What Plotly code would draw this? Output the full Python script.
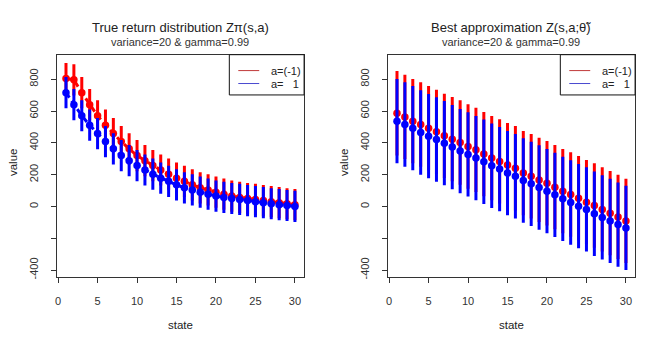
import plotly.graph_objects as go

states = list(range(1, 31))

# Left panel: true return distribution (means)
true_red = [804, 796, 715, 640, 570, 511, 458, 408, 362, 320, 288, 257, 229, 203, 178,
            158, 136, 117, 104, 90, 77, 65, 57, 50, 44, 37, 30, 24, 17, 11]
true_blue = [715, 640, 570, 511, 458, 408, 362, 320, 288, 257, 229, 203, 178, 158, 136,
             117, 104, 90, 77, 65, 57, 50, 44, 37, 30, 24, 17, 11, 6, 0]
true_halfwidth = 98

# Right panel: best approximation (means)
approx_red = [586, 563, 536, 515, 492, 469, 444, 423, 402, 377, 356, 329, 304, 283, 260,
              240, 210, 190, 167, 146, 121, 96, 75, 52, 27, 6, -19, -42, -66, -91]
approx_blue = [536, 515, 492, 465, 442, 421, 398, 373, 348, 327, 304, 281, 256, 235, 210,
               190, 163, 142, 119, 96, 73, 48, 25, 2, -19, -46, -69, -91, -114, -135]
approx_halfwidth = 265

x_ticks = [0, 5, 10, 15, 20, 25, 30]
y_ticks = [-400, -200, 0, 200, 400, 600, 800]
y_ticktext = ["-400", "", "0", "200", "400", "600", "800"]

legend_labels = ["a=(-1)", "a=   1"]
titles = ["True return distribution Z\u03c0(s,a)", "Best approximation Z(s,a;\u03b8\u0303)"]
subtitle = "variance=20 & gamma=0.99"

RED = "#ff0000"
BLUE = "#0000ff"
FONT = "Liberation Sans, Arial, sans-serif"
TXT = "#222222"

W, H = 664, 349
fig = go.Figure()

def px(x):
    return x / W

def py(y):
    return 1 - y / H

panels = [
    dict(xa="x", ya="y", left=55, right=303),
    dict(xa="x2", ya="y2", left=387, right=635),
]

def add_series(xa, ya, vals, hw, color):
    fig.add_trace(go.Scatter(
        x=states, y=vals, mode="markers", xaxis=xa, yaxis=ya,
        marker=dict(color=color, size=7.5, line=dict(width=0)),
        error_y=dict(type="constant", value=hw, color=color, thickness=3, width=0),
        showlegend=False, hoverinfo="skip"))

def add_line(xa, ya, vals, color):
    fig.add_trace(go.Scatter(
        x=states, y=vals, mode="lines", xaxis=xa, yaxis=ya,
        line=dict(color=color, width=3, dash="6px,4px"),
        showlegend=False, hoverinfo="skip"))

# Left panel
add_series("x", "y", true_red, true_halfwidth, RED)
add_line("x", "y", true_red, RED)
add_series("x", "y", true_blue, true_halfwidth, BLUE)
add_line("x", "y", true_blue, BLUE)
# Right panel
add_series("x2", "y2", approx_red, approx_halfwidth, RED)
add_series("x2", "y2", approx_blue, approx_halfwidth, BLUE)

y_dom = [py(279), py(55)]
axis_common = dict(
    showgrid=False, zeroline=False, showline=True, mirror=True,
    linecolor="#333333", linewidth=1, ticks="outside", ticklen=5,
    tickcolor="#333333", tickfont=dict(family=FONT, size=11, color="#333333"),
)
fig.update_layout(
    xaxis=dict(domain=[px(55), px(303)], range=[-0.16, 31.16], tickvals=x_ticks,
               anchor="y", ticklabelstandoff=8, **axis_common),
    yaxis=dict(domain=y_dom, range=[-446, 954], tickvals=y_ticks, ticktext=y_ticktext,
               tickangle=-90, anchor="x", ticklabelstandoff=8, **axis_common),
    xaxis2=dict(domain=[px(387), px(635)], range=[-0.16, 31.16], tickvals=x_ticks,
                anchor="y2", ticklabelstandoff=8, **axis_common),
    yaxis2=dict(domain=y_dom, range=[-446, 954], tickvals=y_ticks, ticktext=y_ticktext,
                tickangle=-90, anchor="x2", ticklabelstandoff=8, **axis_common),
    width=W, height=H, margin=dict(l=0, r=0, t=0, b=0),
    paper_bgcolor="white", plot_bgcolor="white", showlegend=False,
)

annotations = []
shapes = []
for i, p in enumerate(panels):
    cx = (p["left"] + p["right"]) / 2
    annotations.append(dict(x=px(cx), y=py(27.5), xref="paper", yref="paper",
                            text=titles[i], showarrow=False, xanchor="center", yanchor="middle",
                            font=dict(family=FONT, size=13, color=TXT)))
    annotations.append(dict(x=px(cx), y=py(42), xref="paper", yref="paper",
                            text=subtitle, showarrow=False, xanchor="center", yanchor="middle",
                            font=dict(family=FONT, size=11, color="#333333")))
    annotations.append(dict(x=px(cx), y=py(327), xref="paper", yref="paper",
                            text="state", showarrow=False, xanchor="center", yanchor="middle",
                            font=dict(family=FONT, size=11.5, color=TXT)))
    annotations.append(dict(x=px(p["left"] - 44), y=py(163), xref="paper", yref="paper",
                            text="value", showarrow=False, xanchor="center", yanchor="middle",
                            textangle=-90, font=dict(family=FONT, size=11.5, color=TXT)))
    # legend box
    lx0 = p["right"] - 75
    shapes.append(dict(type="rect", xref="paper", yref="paper",
                       x0=px(lx0), x1=px(p["right"]), y0=py(95.5), y1=py(55),
                       line=dict(color="#111111", width=1), fillcolor="white"))
    for j, (col, yy) in enumerate([("#c03a3a", 71), ("#4a4ad0", 84)]):
        shapes.append(dict(type="line", xref="paper", yref="paper",
                           x0=px(lx0 + 9), x1=px(lx0 + 30), y0=py(yy), y1=py(yy),
                           line=dict(color=col, width=1)))
        annotations.append(dict(x=px(lx0 + 40), y=py(yy), xref="paper", yref="paper",
                                text=legend_labels[j].replace(" ", "&nbsp;"), showarrow=False,
                                xanchor="left", yanchor="middle",
                                font=dict(family=FONT, size=11, color=TXT)))

fig.update_layout(annotations=annotations, shapes=shapes)
fig.write_html("out.html",
               config={"displayModeBar": False},
               post_script="document.body.style.margin='0';document.body.style.overflow='hidden';")
